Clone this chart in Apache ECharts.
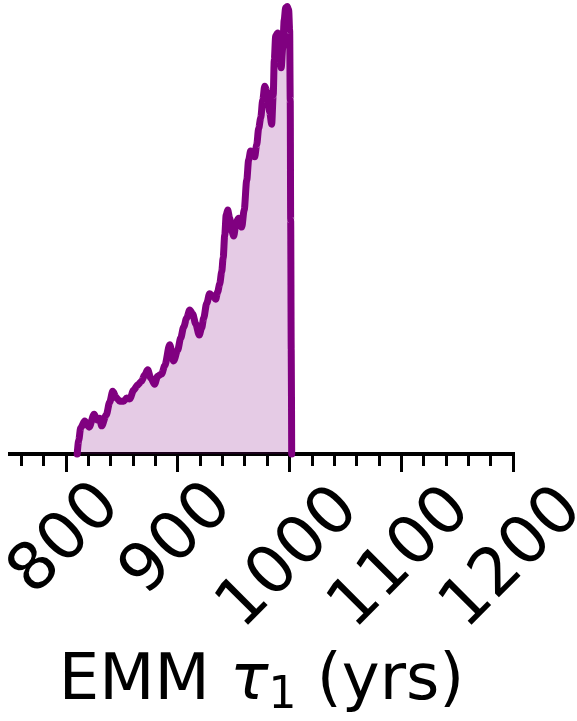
<!DOCTYPE html>
<html>
<head>
<meta charset="utf-8">
<script src="https://cdn.jsdelivr.net/npm/echarts@6/dist/echarts.min.js"></script>
<style>
  html, body { margin: 0; padding: 0; background: #ffffff; }
  #chart { width: 577px; height: 721px; }
</style>
</head>
<body>
<div id="chart"></div>
<script>
// Posterior density of the EMM tau_1 parameter (relative density, peak = 1)
const tauYears = [
  810.1, 811.5, 813.2, 816.8, 820.8, 825.3, 828.0, 830.2, 832.0, 836.1,
  839.2, 841.9, 845.4, 848.1, 851.7, 854.4, 857.1, 860.7, 864.2, 867.8,
  870.5, 873.2, 875.9, 879.4, 882.1, 885.7, 888.4, 892.9, 896.4, 900.0,
  902.7, 905.4, 908.1, 910.8, 913.4, 916.1, 919.3, 921.5, 923.3, 926.0,
  928.6, 931.3, 934.0, 935.8, 937.6, 939.4, 940.7, 942.1, 943.4, 944.8,
  946.5, 948.8, 950.1, 952.4, 954.6, 957.3, 959.5, 961.8, 963.5, 965.3,
  967.1, 968.9, 970.7, 972.5, 974.3, 976.1, 977.9, 980.1, 982.3, 984.1,
  985.5, 986.4, 987.7, 989.5, 991.3, 992.6, 994.0, 995.3, 996.6, 998.0,
  999.3, 1000.2, 1000.7, 1001.1, 1001.6, 1002.0
];
const density = [
  0.000, 0.031, 0.058, 0.074, 0.060, 0.089, 0.076, 0.080, 0.063, 0.087,
  0.116, 0.140, 0.125, 0.118, 0.118, 0.125, 0.123, 0.143, 0.154, 0.163,
  0.177, 0.188, 0.170, 0.156, 0.174, 0.179, 0.197, 0.244, 0.208, 0.232,
  0.259, 0.284, 0.304, 0.322, 0.313, 0.291, 0.266, 0.282, 0.304, 0.337,
  0.358, 0.353, 0.346, 0.362, 0.380, 0.407, 0.438, 0.489, 0.534, 0.545,
  0.527, 0.496, 0.487, 0.518, 0.527, 0.507, 0.545, 0.612, 0.657, 0.677,
  0.675, 0.664, 0.691, 0.728, 0.751, 0.791, 0.822, 0.809, 0.764, 0.737,
  0.802, 0.880, 0.934, 0.941, 0.930, 0.863, 0.907, 0.970, 0.997, 1.000,
  0.992, 0.947, 0.791, 0.523, 0.232, 0.000
];

// x-axis ticks and labels
const tickLabels = [800, 900, 1000, 1100, 1200];
const minorTicks = [760, 780, 820, 840, 860, 880, 920, 940, 960, 980,
                    1020, 1040, 1060, 1080, 1120, 1140, 1160, 1180];
const axisMin = 750;
const axisMax = 1200;

const FONT = 'DejaVu Sans';
const INK = '#000000';
const PURPLE = '#800080';

const shortLabels = tickLabels.filter(v => String(v).length <= 3);
const longLabels = tickLabels.filter(v => String(v).length > 3);

function hiddenAxis() {
  return {
    type: 'value', min: axisMin, max: axisMax, position: 'bottom',
    axisLine: { show: false }, axisTick: { show: false },
    axisLabel: { show: false }, splitLine: { show: false }
  };
}

// rotated tick labels, centred on their tick
function labelStyle(values, margin) {
  return {
    show: true, customValues: values, rotate: 45,
    align: 'center', verticalAlign: 'middle', margin: margin,
    formatter: v => String(v),
    fontFamily: FONT, fontSize: 66, color: INK
  };
}

const mainAxis = Object.assign(hiddenAxis(), {
  axisLine: { show: true, lineStyle: { color: INK, width: 4, cap: 'square' } },
  axisTick: { show: true, customValues: tickLabels, length: 18,
              lineStyle: { color: INK, width: 3 } },
  axisLabel: labelStyle(shortLabels, 86),
  name: 'EMM {tau|τ}{sub|1} (yrs)',
  nameLocation: 'middle',
  nameGap: 191,
  nameTextStyle: {
    fontFamily: FONT, fontSize: 64, color: INK,
    rich: {
      tau: { fontFamily: FONT, fontSize: 64, fontStyle: 'italic', color: INK },
      sub: { fontFamily: FONT, fontSize: 44, color: INK, padding: [30, 0, 0, 0] }
    }
  }
});

const longLabelAxis = Object.assign(hiddenAxis(), {
  axisLabel: labelStyle(longLabels, 105)
});

const minorAxis = Object.assign(hiddenAxis(), {
  axisTick: { show: true, customValues: minorTicks, length: 12,
              lineStyle: { color: INK, width: 3 } }
});

const chart = echarts.init(document.getElementById('chart'), null, { renderer: 'canvas' });

chart.setOption({
  animation: false,
  backgroundColor: '#ffffff',
  grid: {
    left: 10, right: 64, top: 6.5, bottom: 267,
    containLabel: false, outerBoundsMode: 'none'
  },
  xAxis: [mainAxis, longLabelAxis, minorAxis],
  yAxis: { type: 'value', min: 0, max: 1, show: false, splitLine: { show: false } },
  series: [{
    type: 'line',
    xAxisIndex: 0,
    data: tauYears.map((t, i) => [t, density[i]]),
    showSymbol: false,
    smooth: 0.3,
    smoothMonotone: 'x',
    clip: false,
    lineStyle: { color: PURPLE, width: 7, join: 'round', cap: 'round' },
    areaStyle: { color: 'rgba(128, 0, 128, 0.29)', origin: 'start' },
    z: 3
  }]
});
</script>
</body>
</html>
